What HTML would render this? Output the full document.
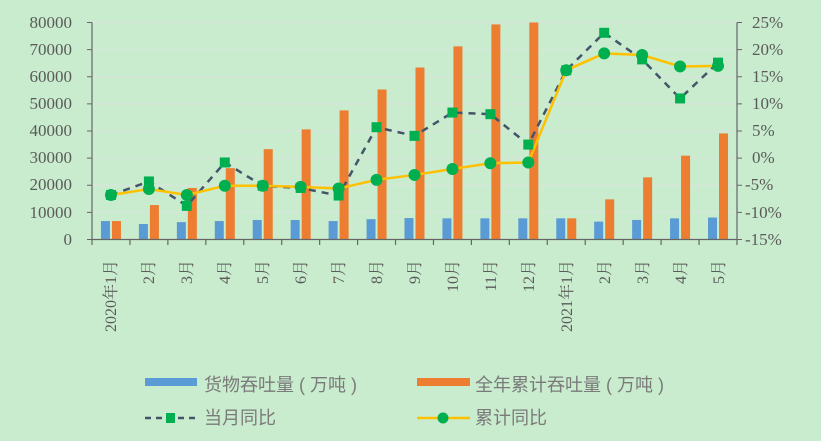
<!DOCTYPE html>
<html><head><meta charset="utf-8"><style>
html,body{margin:0;padding:0;background:#c8eccd;}
svg{display:block}
.ax{font-family:"Liberation Serif","Noto Serif CJK SC",serif;font-size:17px;fill:#5a5a5a}
.xl{font-family:"Liberation Serif","Noto Serif CJK SC",serif;font-size:16px;fill:#5a5a5a}
.lg{font-family:"Liberation Sans","Noto Sans CJK SC",sans-serif;font-size:18px;fill:#7a7a7a}
</style></head><body>
<svg id="s" width="821" height="441" viewBox="0 0 821 441" xmlns="http://www.w3.org/2000/svg">
<rect width="821" height="441" fill="#c8eccd"/>
<g id="grid"></g>
<g id="bars"></g>
<line x1="92" y1="22.5" x2="92" y2="239.5" stroke="#666" stroke-width="1.2"/>
<line x1="737" y1="22.5" x2="737" y2="239.5" stroke="#666" stroke-width="1.2"/>
<line x1="92" y1="239.5" x2="737" y2="239.5" stroke="#666" stroke-width="1.2"/>
<g id="ticks"></g>
<g id="lines"></g>
<g class="ax" text-anchor="end">
<text x="72" y="28">80000</text><text x="72" y="55">70000</text><text x="72" y="82">60000</text><text x="72" y="109">50000</text><text x="72" y="136">40000</text><text x="72" y="163">30000</text><text x="72" y="190">20000</text><text x="72" y="218">10000</text><text x="72" y="245">0</text>
</g>
<g class="ax">
<text x="752" y="28">25%</text><text x="752" y="55">20%</text><text x="752" y="82">15%</text><text x="752" y="109">10%</text><text x="752" y="136">5%</text><text x="752" y="163">0%</text><text x="745" y="190">-5%</text><text x="745" y="218">-10%</text><text x="745" y="245">-15%</text>
</g>
<g class="xl" text-anchor="end">
<text transform="translate(116,260) rotate(-90)">2020年1月</text>
<text transform="translate(154,260) rotate(-90)">2月</text>
<text transform="translate(192,260) rotate(-90)">3月</text>
<text transform="translate(230,260) rotate(-90)">4月</text>
<text transform="translate(268,260) rotate(-90)">5月</text>
<text transform="translate(306,260) rotate(-90)">6月</text>
<text transform="translate(344,260) rotate(-90)">7月</text>
<text transform="translate(382,260) rotate(-90)">8月</text>
<text transform="translate(420,260) rotate(-90)">9月</text>
<text transform="translate(458,260) rotate(-90)">10月</text>
<text transform="translate(496,260) rotate(-90)">11月</text>
<text transform="translate(534,260) rotate(-90)">12月</text>
<text transform="translate(572,260) rotate(-90)">2021年1月</text>
<text transform="translate(610,260) rotate(-90)">2月</text>
<text transform="translate(648,260) rotate(-90)">3月</text>
<text transform="translate(686,260) rotate(-90)">4月</text>
<text transform="translate(724,260) rotate(-90)">5月</text>
</g>
<rect x="145" y="378" width="52" height="8" fill="#5b9bd5"/>
<text class="lg" x="204" y="391">货物吞吐量 ( 万吨 )</text>
<rect x="417" y="378" width="53" height="8" fill="#ed7d31"/>
<text class="lg" x="475" y="391">全年累计吞吐量 ( 万吨 )</text>
<line x1="145" y1="418" x2="197" y2="418" stroke="#44546a" stroke-width="2.5" stroke-dasharray="6,5"/>
<rect x="166" y="413" width="9" height="10" fill="#00b050"/>
<text class="lg" x="204" y="424">当月同比</text>
<line x1="417" y1="418" x2="470" y2="418" stroke="#ffc000" stroke-width="2.5"/>
<circle cx="443" cy="418" r="5.5" fill="#00b050"/>
<text class="lg" x="475" y="424">累计同比</text>
</svg>
<script>
var NS="http://www.w3.org/2000/svg";
function el(p,t,a){var e=document.createElementNS(NS,t);for(var k in a)e.setAttribute(k,a[k]);document.getElementById(p).appendChild(e);return e;}
var W=37.94,L=92;
function yl(v){return 239.5-v*217/80000;}
function yr(v){return 22.5+(25-v)*5.425;}
for(var i=1;i<8;i++){var y=22.5+i*27.125;el("grid","line",{x1:92,x2:737,y1:y,y2:y,stroke:"#d6e6d9","stroke-width":1.5});}
el("grid","line",{x1:92,x2:737,y1:22.5,y2:22.5,stroke:"#d6e6d9","stroke-width":1.5});
var blue=[6800,5700,6400,6800,7200,7200,6800,7500,7900,7800,7800,7800,7800,6600,7200,7800,8100];
var org=[6800,12700,19000,26300,33300,40600,47600,55300,63400,71200,79300,80000,7800,14800,22900,30900,39100];
var mon=[-6.8,-4.3,-8.8,-0.8,-5.1,-5.5,-6.9,5.7,4.1,8.4,8.1,2.5,16.2,23.1,18.2,11.0,17.6];
var cum=[-6.8,-5.7,-6.8,-5.1,-5.1,-5.3,-5.6,-4.0,-3.1,-2.0,-0.95,-0.8,16.2,19.3,19.0,16.9,17.0];
for(var i=0;i<17;i++){var c=L+W*(i+0.5);
el("bars","rect",{x:c-10,y:yl(blue[i]),width:9,height:239.5-yl(blue[i]),fill:"#5b9bd5"});
el("bars","rect",{x:c+1,y:yl(org[i]),width:9,height:239.5-yl(org[i]),fill:"#ed7d31"});}
for(var i=0;i<=17;i++){var x=L+W*i;el("ticks","line",{x1:x,x2:x,y1:239.5,y2:245,stroke:"#666","stroke-width":1.2});}
for(var v=0;v<=8;v++){var y=22.5+v*27.125;el("ticks","line",{x1:87,x2:92,y1:y,y2:y,stroke:"#666"});el("ticks","line",{x1:737,x2:742,y1:y,y2:y,stroke:"#666"});}
var pm=[],pc=[];
for(var i=0;i<17;i++){var c=L+W*(i+0.5);pm.push(c+","+yr(mon[i]));pc.push(c+","+yr(cum[i]));}
el("lines","polyline",{points:pm.join(" "),fill:"none",stroke:"#44546a","stroke-width":2.5,"stroke-dasharray":"7,6"});
el("lines","polyline",{points:pc.join(" "),fill:"none",stroke:"#ffc000","stroke-width":2.5});
for(var i=0;i<17;i++){var c=L+W*(i+0.5);
el("lines","rect",{x:c-5,y:yr(mon[i])-5,width:10,height:10,fill:"#00b050"});
el("lines","circle",{cx:c,cy:yr(cum[i]),r:6,fill:"#00b050"});}
</script>
</body></html>
